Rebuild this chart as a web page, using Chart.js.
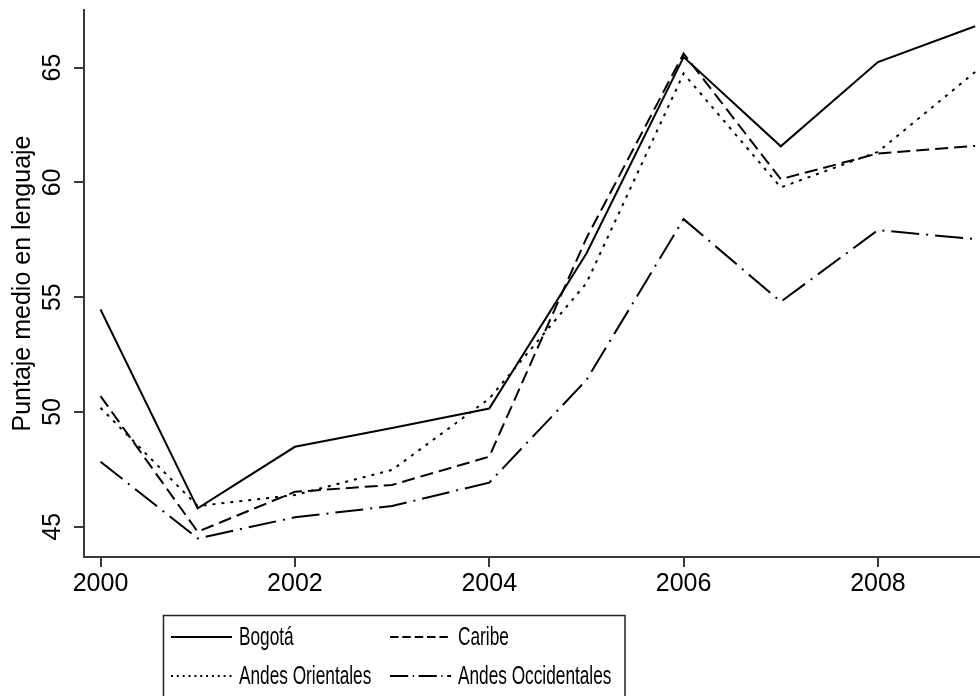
<!DOCTYPE html>
<html>
<head>
<meta charset="utf-8">
<script src="https://cdn.jsdelivr.net/npm/chart.js@4/dist/chart.umd.min.js"></script>
<style>
  html, body { margin: 0; padding: 0; background: #fff; }
  #wrap { width: 980px; height: 696px; }
</style>
</head>
<body>
<div id="wrap"><canvas id="c" width="980" height="696"></canvas></div>
<script>
// Mean language score by region, 2000-2009
const years = [2000, 2001, 2002, 2003, 2004, 2005, 2006, 2007, 2008, 2009];
const bogota = [54.46, 45.80, 48.48, 49.30, 50.15, 56.90, 65.46, 61.57, 65.24, 66.80];
const caribe = [50.69, 44.78, 46.52, 46.82, 48.05, 57.57, 65.61, 60.14, 61.26, 61.59];
const andesOrientales = [50.18, 45.90, 46.38, 47.47, 50.58, 55.61, 64.74, 59.78, 61.33, 64.81];
const andesOccidentales = [47.83, 44.49, 45.41, 45.90, 46.92, 51.39, 58.40, 54.80, 57.92, 57.53];
const seriesNames = ['Bogotá', 'Caribe', 'Andes Orientales', 'Andes Occidentales'];
const xTickValues = [2000, 2002, 2004, 2006, 2008];
const yTickValues = [45, 50, 55, 60, 65];
const yTitle = 'Puntaje medio en lenguaje';

const FONT = '"Liberation Sans", Arial, Helvetica, sans-serif';
const AXIS = '#3a3a3a';

const toPoints = vals => years.map((yr, i) => ({ x: yr, y: vals[i] }));

const styles = [
  { borderDash: [] },
  { borderDash: [13, 6] },
  { borderDash: [3, 6] },
  { borderDash: [28, 7, 2, 7] }
];

const datasets = [bogota, caribe, andesOrientales, andesOccidentales].map((vals, i) => ({
  label: seriesNames[i],
  data: toPoints(vals),
  borderColor: '#000',
  backgroundColor: '#000',
  borderWidth: 2,
  borderDash: styles[i].borderDash,
  pointRadius: 0,
  tension: 0,
  fill: false
}));

// Boxed two-column legend below the plot
const boxLegend = {
  id: 'boxLegend',
  afterDraw(chart) {
    const ctx = chart.ctx;
    ctx.save();
    ctx.strokeStyle = '#222';
    ctx.lineWidth = 1.5;
    ctx.strokeRect(163.5, 615.5, 461.5, 100);
    const colX = [171, 390];
    const rowY = [637, 676];
    chart.data.datasets.forEach((ds, i) => {
      const col = i % 2, row = Math.floor(i / 2);
      const x0 = colX[col], y = rowY[row];
      ctx.strokeStyle = '#000';
      ctx.lineWidth = 2;
      ctx.setLineDash(ds.borderDash.map(v => v * 0.65));
      ctx.beginPath();
      ctx.moveTo(x0, y);
      ctx.lineTo(x0 + 61, y);
      ctx.stroke();
      ctx.setLineDash([]);
      ctx.save();
      ctx.translate(x0 + 68, y);
      ctx.scale(0.69, 1);
      ctx.fillStyle = '#000';
      ctx.font = '25px ' + FONT;
      ctx.textBaseline = 'middle';
      ctx.textAlign = 'left';
      ctx.fillText(ds.label, 0, 1);
      ctx.restore();
    });
    ctx.restore();
  }
};

new Chart(document.getElementById('c'), {
  type: 'line',
  data: { datasets },
  plugins: [boxLegend],
  options: {
    responsive: false,
    animation: false,
    devicePixelRatio: 1,
    layout: { padding: { top: 10, right: 0, bottom: 89, left: 0 } },
    plugins: { legend: { display: false }, tooltip: { enabled: false } },
    scales: {
      x: {
        type: 'linear',
        min: 1999.83,
        max: 2009.05,
        afterFit: s => { s.height = 50; s.paddingLeft = 0; s.paddingRight = 0; },
        afterBuildTicks: s => { s.ticks = xTickValues.map(v => ({ value: v })); },
        grid: { drawOnChartArea: false, drawTicks: true, tickLength: 10, color: AXIS, lineWidth: 2 },
        border: { display: true, color: AXIS, width: 2 },
        ticks: {
          color: '#000',
          font: { family: FONT, size: 25 },
          padding: 2,
          maxRotation: 0,
          callback: v => String(v)
        }
      },
      y: {
        type: 'linear',
        min: 43.68,
        max: 67.51,
        afterFit: s => { s.width = 84; s.paddingTop = 0; s.paddingBottom = 0; },
        afterBuildTicks: s => { s.ticks = yTickValues.map(v => ({ value: v })); },
        grid: { drawOnChartArea: false, drawTicks: true, tickLength: 10, color: AXIS, lineWidth: 2 },
        border: { display: true, color: AXIS, width: 2 },
        ticks: {
          color: '#000',
          font: { family: FONT, size: 25 },
          padding: 7,
          minRotation: 90,
          maxRotation: 90,
          crossAlign: 'center',
          callback: v => String(v)
        },
        title: {
          display: true,
          text: yTitle,
          color: '#000',
          font: { family: FONT, size: 25 },
          padding: { top: 8, bottom: 0 }
        }
      }
    }
  }
});
</script>
</body>
</html>
